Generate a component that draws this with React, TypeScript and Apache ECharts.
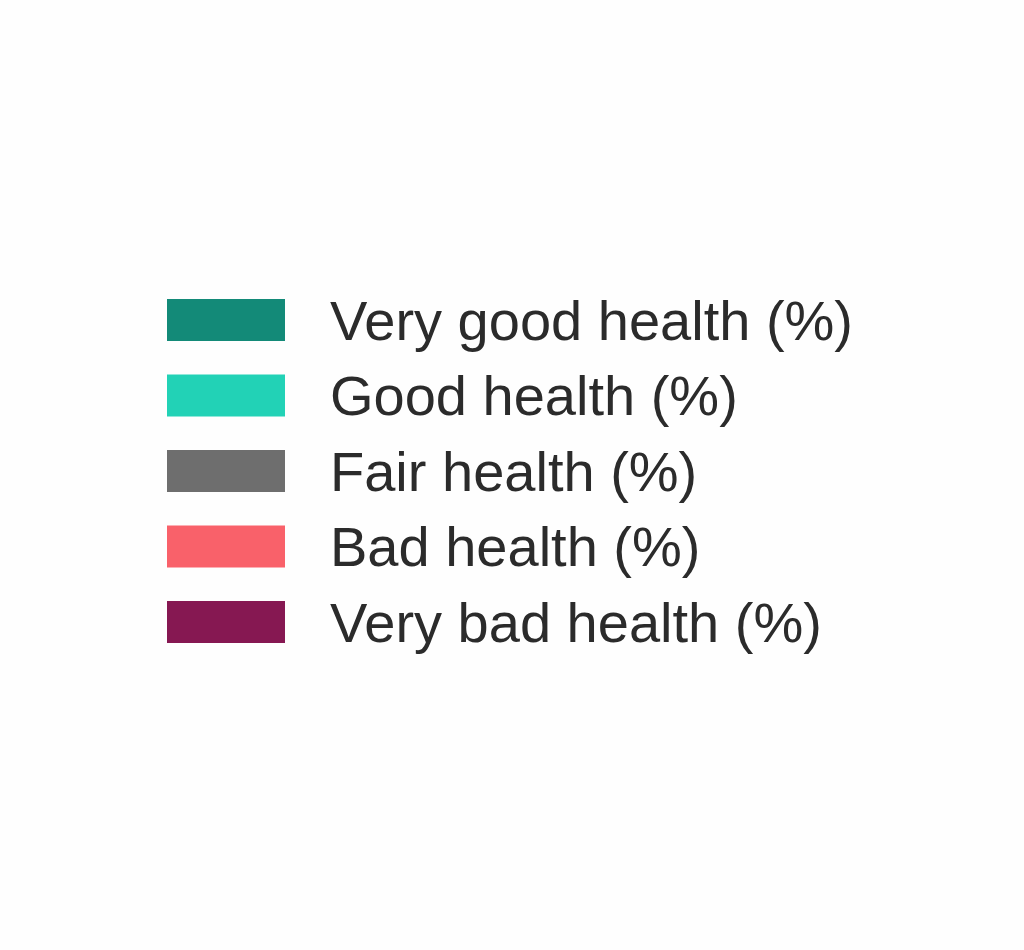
import React, { useEffect, useRef } from 'react';
import * as echarts from 'echarts';

// 图例类别与颜色
const categories = [
  'Very good health (%)',
  'Good health (%)',
  'Fair health (%)',
  'Bad health (%)',
  'Very bad health (%)',
];
const colors = ['#138a78', '#22d2b6', '#6e6e6e', '#f9616a', '#861852'];
const values: number[][] = [[], [], [], [], []];

const App: React.FC = () => {
  const chartRef = useRef<HTMLDivElement>(null);

  useEffect(() => {
    if (!chartRef.current) return;
    const chart = echarts.init(chartRef.current, null, { renderer: 'svg' });

    const options: echarts.EChartsOption = {
      animation: false,
      backgroundColor: '#fefefe',
      legend: {
        orient: 'vertical',
        left: 167,
        top: 292,
        padding: 0,
        itemWidth: 118,
        itemHeight: 42,
        itemGap: 19.5,
        icon: 'rect',
        textStyle: {
          fontFamily: 'Liberation Sans, Arial, sans-serif',
          fontSize: 56,
          color: '#2b2b2b',
          lineHeight: 42,
          padding: [0, 0, 0, 40],
        },
        data: categories,
      },
      grid: { left: 0, right: 0, top: 0, bottom: 0 },
      xAxis: { type: 'category', show: false, data: [] },
      yAxis: { type: 'value', show: false },
      series: categories.map((name, i) => ({
        name,
        type: 'bar',
        itemStyle: { color: colors[i] },
        data: values[i],
      })),
    };

    chart.setOption(options);

    return () => {
      chart.dispose();
    };
  }, []);

  return (
    <div
      ref={chartRef}
      style={{ position: 'fixed', left: 0, top: 0, width: 1024, height: 950 }}
    />
  );
};

export default App;
